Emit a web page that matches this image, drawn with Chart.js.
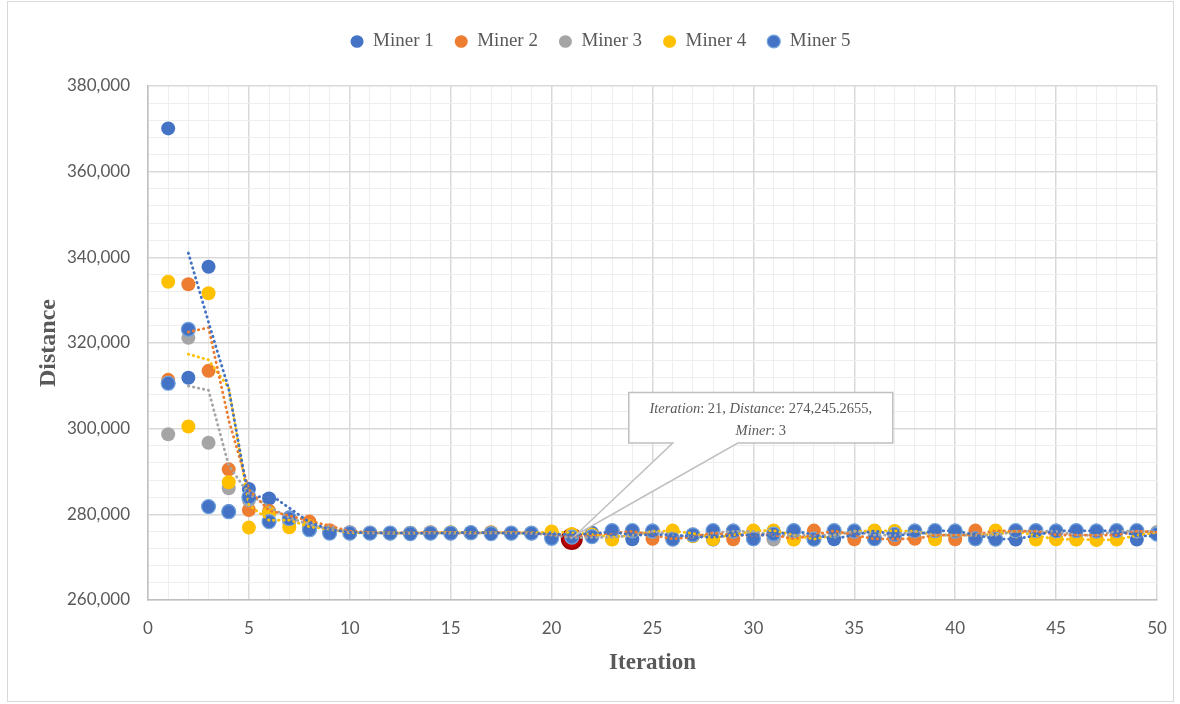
<!DOCTYPE html>
<html>
<head>
<meta charset="utf-8">
<script src="https://cdn.jsdelivr.net/npm/chart.js@4.4.1/dist/chart.umd.min.js"></script>
<style>
  html, body { margin: 0; padding: 0; background: #ffffff; }
  canvas { display: block; }
</style>
</head>
<body>
<canvas id="chart" width="1180" height="704"></canvas>
<script>
// Iteration numbers (x values)
const iterations = [
  1, 2, 3, 4, 5, 6, 7, 8, 9, 10,
  11, 12, 13, 14, 15, 16, 17, 18, 19, 20,
  21, 22, 23, 24, 25, 26, 27, 28, 29, 30,
  31, 32, 33, 34, 35, 36, 37, 38, 39, 40,
  41, 42, 43, 44, 45, 46, 47, 48, 49, 50
];

// Route distance found by each miner at every iteration
const miner1 = [
  370100, 311900, 337800, 280800, 285900, 283700, 279300, 277000, 275900, 275700,
  275600, 275700, 275500, 275600, 275700, 275800, 275600, 275500, 275600, 275200,
  275300, 275700, 276100, 274200, 276200, 274300, 275200, 274100, 276200, 274200,
  276100, 276200, 274300, 274200, 276200, 276100, 274300, 276200, 276100, 276200,
  274200, 274300, 274100, 276100, 276200, 276100, 276200, 276100, 274100, 275500
];
const miner2 = [
  311400, 333700, 313500, 290500, 281000, 280800, 278600, 278300, 276300, 275800,
  275700, 275600, 275700, 275800, 275600, 275700, 275800, 275700, 275600, 275000,
  275100, 275200, 276000, 276100, 274300, 274200, 275300, 276000, 274200, 276100,
  274300, 274200, 276200, 276100, 274200, 274300, 274200, 274300, 276000, 274200,
  276200, 276100, 276000, 276100, 274300, 276000, 274200, 276100, 276000, 275600
];
const miner3 = [
  298700, 321200, 296700, 286100, 283300, 280200, 278200, 277000, 276000, 275700,
  275600, 275500, 275700, 275600, 275500, 275600, 275700, 275600, 275500, 274800,
  274245.2655, 275000, 274200, 276000, 276100, 274300, 275200, 276100, 276000, 276000,
  274100, 276100, 274200, 276000, 276100, 274200, 276000, 276100, 274300, 276000,
  274200, 276000, 276100, 276000, 276100, 274200, 276000, 276100, 276000, 275900
];
const miner4 = [
  334300, 300500, 331600, 287500, 276900, 280300, 277000, 277200, 275800, 275600,
  275700, 275600, 275600, 275700, 275800, 275600, 275700, 275600, 275700, 276000,
  275400, 275300, 274100, 276100, 276000, 276200, 274900, 274200, 276100, 276200,
  276200, 274100, 274300, 276000, 276100, 276200, 276100, 276000, 274200, 276100,
  274300, 276200, 276000, 274100, 274200, 274100, 274000, 274100, 276100, 275500
];
const miner5 = [
  310600, 323200, 281800, 280600, 284000, 278300, 279000, 276400, 275600, 275600,
  275600, 275600, 275500, 275600, 275600, 275700, 275500, 275600, 275600, 274400,
  274700, 274800, 276200, 276200, 276100, 274200, 275200, 276200, 276100, 274300,
  275400, 276200, 274200, 276200, 276100, 274300, 275300, 276100, 276200, 276100,
  274300, 274200, 276200, 276200, 276100, 276200, 276100, 276200, 276200, 275400
];

const minerNames = ['Miner 1', 'Miner 2', 'Miner 3', 'Miner 4', 'Miner 5'];
const minerSeries = [miner1, miner2, miner3, miner4, miner5];
const minerColors = ['#4472C4', '#ED7D31', '#A5A5A5', '#FFC000', '#4472C4'];
const minerBorders = ['#4472C4', '#ED7D31', '#A5A5A5', '#FFC000', '#73A3DD'];

// Best solution that gets the callout
const bestMinerIndex = 2;      // Miner 3
const bestIteration = 21;

// Axis ranges and labelled ticks
const xTickLabels = [0, 5, 10, 15, 20, 25, 30, 35, 40, 45, 50];
const yTickLabels = [260000, 280000, 300000, 320000, 340000, 360000, 380000];

const TEXT = '#595959';
const SERIF = '"Liberation Serif", "Times New Roman", serif';
const SANS = 'Lato, "Open Sans", sans-serif';

// 2-period moving average trend for a series
function movingAverage(values) {
  const out = [];
  for (let i = 1; i < values.length; i++) {
    out.push({ x: iterations[i], y: (values[i - 1] + values[i]) / 2 });
  }
  return out;
}

const datasets = [];
minerSeries.forEach((values, m) => {
  const isBest = m === bestMinerIndex;
  datasets.push({
    label: minerNames[m],
    data: values.map((v, i) => ({ x: iterations[i], y: v })),
    backgroundColor: minerColors[m],
    borderColor: minerBorders[m],
    pointBackgroundColor: ctx => (isBest && ctx.dataIndex === bestIteration - 1) ? '#C00000' : minerColors[m],
    pointBorderColor: ctx => (isBest && ctx.dataIndex === bestIteration - 1) ? '#9E0000' : minerBorders[m],
    pointBorderWidth: ctx => (isBest && ctx.dataIndex === bestIteration - 1) ? 2 : (m === 4 ? 1.2 : 0),
    pointRadius: ctx => (isBest && ctx.dataIndex === bestIteration - 1) ? 10 : 7,
    showLine: false,
    order: 5 - m
  });
});
// Trend lines for miners 1-4
for (let m = 0; m < 4; m++) {
  datasets.push({
    label: minerNames[m] + ' trend',
    data: movingAverage(minerSeries[m]),
    showLine: true,
    borderColor: minerColors[m],
    backgroundColor: minerColors[m],
    borderWidth: 2.8,
    borderDash: [0.5, 4.6],
    borderCapStyle: 'round',
    pointRadius: 0,
    fill: false,
    tension: 0,
    order: 0
  });
}

// Fixed legend band height above the plot, legend nudged right
const legendBand = {
  id: 'legendBand',
  beforeInit(chart) {
    const legend = chart.legend;
    const fit = legend.fit;
    legend.fit = function () {
      fit.call(this);
      this.height = 75;
    };
    const draw = legend.draw;
    legend.draw = function () {
      this.left += 18; this.right += 18;
      draw.call(this);
      this.left -= 18; this.right -= 18;
    };
  }
};

// Outer frame of the figure
const frame = {
  id: 'frame',
  beforeDraw(chart) {
    const ctx = chart.ctx;
    ctx.save();
    ctx.fillStyle = '#ffffff';
    ctx.fillRect(0, 0, chart.width, chart.height);
    ctx.strokeStyle = '#D9D9D9';
    ctx.lineWidth = 1;
    ctx.strokeRect(7.5, 1.5, chart.width - 14, chart.height - 4);
    ctx.restore();
  }
};

// Callout box pointing at the best solution
const callout = {
  id: 'callout',
  afterDraw(chart) {
    const ctx = chart.ctx;
    const xs = chart.scales.x, ys = chart.scales.y;
    const value = minerSeries[bestMinerIndex][bestIteration - 1];
    const px = xs.getPixelForValue(bestIteration);
    const py = ys.getPixelForValue(value);

    const left = px + 57, top = py - 146.5, w = 264, h = 50.5;
    const right = left + w, bottom = top + h;
    const b1 = px + 101, b2 = px + 166;
    const tipX = px + 4, tipY = py - 4;

    ctx.save();
    ctx.beginPath();
    ctx.moveTo(left, top);
    ctx.lineTo(right, top);
    ctx.lineTo(right, bottom);
    ctx.lineTo(b2, bottom);
    ctx.lineTo(tipX, tipY);
    ctx.lineTo(b1, bottom);
    ctx.lineTo(left, bottom);
    ctx.closePath();
    ctx.fillStyle = '#ffffff';
    ctx.fill();
    ctx.strokeStyle = '#BFBFBF';
    ctx.lineWidth = 1.5;
    ctx.lineJoin = 'miter';
    ctx.stroke();

    const size = 14.5;
    const italic = `italic ${size}px ${SERIF}`;
    const normal = `${size}px ${SERIF}`;
    const distText = value.toLocaleString('en-US', { minimumFractionDigits: 4, maximumFractionDigits: 4 });
    const lines = [
      [['Iteration', italic], [': ' + bestIteration + ', ', normal], ['Distance', italic], [': ' + distText + ',', normal]],
      [['Miner', italic], [': ' + (bestMinerIndex + 1), normal]]
    ];
    const cx = (left + right) / 2;
    const lineY = [top + 16.5, top + 39];
    ctx.fillStyle = TEXT;
    ctx.textBaseline = 'middle';
    ctx.textAlign = 'left';
    lines.forEach((segs, li) => {
      let total = 0;
      segs.forEach(([t, f]) => { ctx.font = f; total += ctx.measureText(t).width; });
      let x = cx - total / 2;
      segs.forEach(([t, f]) => {
        ctx.font = f;
        ctx.fillText(t, x, lineY[li]);
        x += ctx.measureText(t).width;
      });
    });
    ctx.restore();
  }
};

const gridColor = (ctx, step) => (ctx.tick && ctx.tick.value % step === 0) ? '#D9D9D9' : '#EEEEEE';
const gridWidth = (ctx, step) => (ctx.tick && ctx.tick.value % step === 0) ? 1.5 : 1;

new Chart(document.getElementById('chart'), {
  type: 'scatter',
  data: { datasets },
  options: {
    responsive: false,
    animation: false,
    events: [],
    layout: { padding: { top: 11, left: 8, right: 23, bottom: 27 } },
    plugins: {
      tooltip: { enabled: false },
      legend: {
        position: 'top',
        align: 'center',
        labels: {
          usePointStyle: true,
          pointStyle: 'circle',
          boxWidth: 13,
          boxHeight: 9,
          pointStyleWidth: 13,
          padding: 21,
          color: TEXT,
          font: { family: SERIF, size: 19 },
          filter: item => item.datasetIndex < 5,
          sort: (a, b) => a.datasetIndex - b.datasetIndex
        }
      }
    },
    scales: {
      x: {
        type: 'linear',
        min: xTickLabels[0],
        max: xTickLabels[xTickLabels.length - 1],
        ticks: {
          stepSize: 1,
          maxTicksLimit: 100,
          autoSkip: false,
          maxRotation: 0,
          padding: 18,
          color: TEXT,
          font: { family: SANS, size: 17 },
          callback: v => xTickLabels.includes(v) ? String(v) : ''
        },
        grid: {
          color: ctx => gridColor(ctx, 5),
          lineWidth: ctx => gridWidth(ctx, 5),
          drawTicks: false
        },
        border: { color: '#BFBFBF', width: 1.5 },
        title: {
          display: true,
          text: 'Iteration',
          color: TEXT,
          font: { family: SERIF, size: 23, weight: 'bold' },
          padding: { top: 11, bottom: 0 }
        },
        afterFit: scale => {
          scale.height = 77;
          scale.paddingLeft = 10;
          scale.paddingRight = 10;
        }
      },
      y: {
        type: 'linear',
        min: yTickLabels[0],
        max: yTickLabels[yTickLabels.length - 1],
        ticks: {
          stepSize: 4000,
          maxTicksLimit: 100,
          autoSkip: false,
          padding: 18,
          color: TEXT,
          font: { family: SANS, size: 17 },
          callback: v => yTickLabels.includes(v) ? v.toLocaleString('en-US') : ''
        },
        grid: {
          color: ctx => gridColor(ctx, 20000),
          lineWidth: ctx => gridWidth(ctx, 20000),
          drawTicks: false
        },
        border: { color: '#BFBFBF', width: 1.5 },
        title: {
          display: true,
          text: 'Distance',
          color: TEXT,
          font: { family: SERIF, size: 24, weight: 'bold' },
          padding: { top: 26, bottom: 0 }
        },
        afterFit: scale => {
          scale.width = 140;
          scale.paddingTop = 8;
          scale.paddingBottom = 8;
        }
      }
    }
  },
  plugins: [legendBand, frame, callout]
});
</script>
</body>
</html>
